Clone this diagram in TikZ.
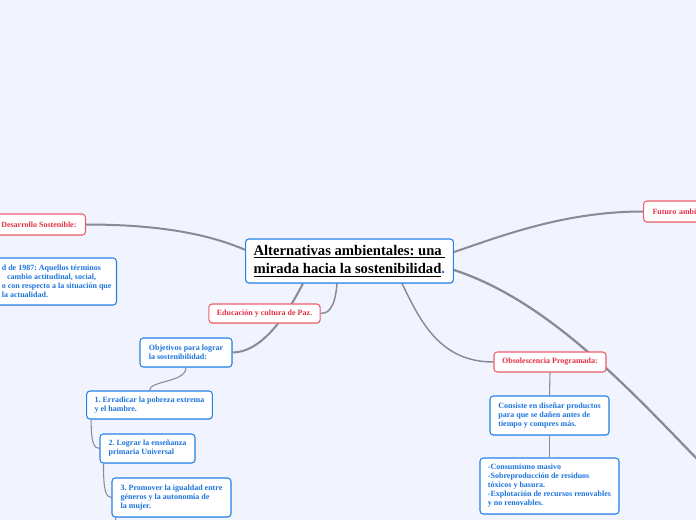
\documentclass[tikz,border=0pt]{standalone}
\usepackage{fontspec}
\setmainfont{Liberation Serif}
\usetikzlibrary{positioning,shadows}
\frenchspacing

\definecolor{fondo}{RGB}{241,244,254}
\definecolor{bordeazul}{RGB}{36,130,232}
\definecolor{textoazul}{RGB}{28,116,222}
\definecolor{borderojo}{RGB}{238,96,108}
\definecolor{textorojo}{RGB}{228,48,70}
\definecolor{gris}{RGB}{138,138,148}

\pgfdeclarelayer{capafondo}
\pgfdeclarelayer{capaRamas}
\pgfsetlayers{capafondo,capaRamas,main}

\begin{document}
\begin{tikzpicture}[x=0.75pt, y=-0.75pt,
	caja/.style={draw, fill=white, rounded corners=2.5pt, line width=0.8pt, inner xsep=6pt, inner ysep=0pt,
		drop shadow={opacity=0.18, shadow xshift=0.4pt, shadow yshift=-0.6pt},
		font=\bfseries\fontsize{6}{6.75}\selectfont},
	azul/.style={caja, draw=bordeazul, text=textoazul, align=left},
	rojo/.style={caja, draw=borderojo, text=textorojo, align=center},
	rama/.style={draw=gris, line width=0.8pt},
	ramagruesa/.style={draw=gris, line width=1.1pt},
	ramaprincipal/.style={draw=gris, line width=1.5pt}]
	\useasboundingbox[clip] (0,0) rectangle (696,520);
	
	% tema central
	\node[caja, draw=bordeazul, align=left, minimum width=155.25pt, minimum height=33pt,
		font=\bfseries\fontsize{11}{13.8}\selectfont] (titulo) at (349.5,261)
		{\underline{Alternativas ambientales: una\ }\\\underline{mirada hacia la sostenibilidad}{\color{textoazul}.}};
	
	% rama izquierda
	\node[rojo, anchor=east, minimum height=15.75pt, inner xsep=6.75pt] (desarrollo) at (86,224.5) {Desarrollo Sostenible:};
	\node[azul, anchor=east, minimum height=35.25pt, inner xsep=3.75pt] (informe) at (117,281.5)
		{d de 1987: Aquellos términos\\\hspace*{4pt}cambio actitudinal, social,\\o con respecto a la situación que\\la actualidad.};
	
	% educacion
	\node[rojo, minimum width=83.25pt, minimum height=14.25pt] (educacion) at (264.5,313.5) {Educación y cultura de Paz.};
	\node[azul, minimum width=69pt, minimum height=21.75pt] (objetivos) at (186,352.5) {Objetivos para lograr\\la sostenibilidad:};
	\node[azul, minimum width=93.75pt, minimum height=21pt] (pobreza) at (149.5,405) {1. Erradicar la pobreza extrema\\y el hambre.};
	\node[azul, minimum width=71.25pt, minimum height=21.75pt] (ensenanza) at (147.5,448.5) {2. Lograr la enseñanza\\primaria Universal};
	\node[azul, minimum width=89.25pt, minimum height=29.25pt] (igualdad) at (171.5,497.5) {3. Promover la igualdad entre\\géneros y la autonomía de\\la mujer.};
	
	% obsolescencia
	\node[rojo, minimum width=84pt, minimum height=15pt] (obsolescencia) at (550,362) {Obsolescencia Programada:};
	\node[azul, minimum width=89.25pt, minimum height=29.25pt] (consiste) at (549.5,415.5)
		{Consiste en diseñar productos\\para que se dañen antes de\\tiempo y compres más.};
	\node[azul, minimum width=104.25pt, minimum height=42pt] (consecuencias) at (549.5,486)
		{-Consumismo masivo\\-Sobreproducción de residuos\\tóxicos y basura.\\-Explotación de recursos renovables\\y no renovables.};
	
	% futuro
	\node[rojo, anchor=west, align=left, text width=60pt, minimum height=15.75pt, inner xsep=6.75pt] (futuro) at (643,211.5) {Futuro ambi};
	
	\coordinate (salida) at (700,462);
	\coordinate (abajo) at (117,530);
	
	\begin{pgfonlayer}{capafondo}
		\fill[fondo] (0,0) rectangle (696,520);
	\end{pgfonlayer}
	
	\begin{pgfonlayer}{capaRamas}
		\draw[ramaprincipal] ([xshift=3.75pt, yshift=6.75pt]titulo.west) .. controls +(-35,-16) and +(80,0) .. (desarrollo.east);
		\draw[ramaprincipal] ([yshift=6.75pt]titulo.east) .. controls +(45,-15) and +(-80,0) .. (futuro.west);
		\draw[ramaprincipal, line width=1.7pt] ([yshift=-6.75pt]titulo.east) .. controls +(95,31) and +(-70,-72) .. (salida);
		\draw[ramagruesa] ([xshift=39.4pt]titulo.south) .. controls +(18,37) and +(-54,0) .. (obsolescencia.west);
		\draw[ramagruesa] ([xshift=-9.4pt]titulo.south) .. controls +(-2,27) and +(6,0) .. (educacion.east);
		\draw[ramaprincipal] ([xshift=-34.9pt]titulo.south) .. controls +(-18,35) and +(28,0) .. (objetivos.east);
		
		\draw[rama] (objetivos.south) .. controls +(0,15) and +(0,-10) .. (pobreza.north);
		\draw[rama] ([xshift=3.75pt]pobreza.south west) .. controls +(0,22) and +(-6,0) .. (ensenanza.west);
		\draw[rama] ([xshift=3pt]ensenanza.south west) .. controls +(0,26) and +(-6,0) .. (igualdad.west);
		\draw[rama] ([xshift=3pt]igualdad.south west) -- (abajo);
		
		\draw[rama] (obsolescencia.south) -- (consiste.north);
		\draw[rama] (consiste.south) -- (consecuencias.north);
	\end{pgfonlayer}
\end{tikzpicture}
\end{document}
